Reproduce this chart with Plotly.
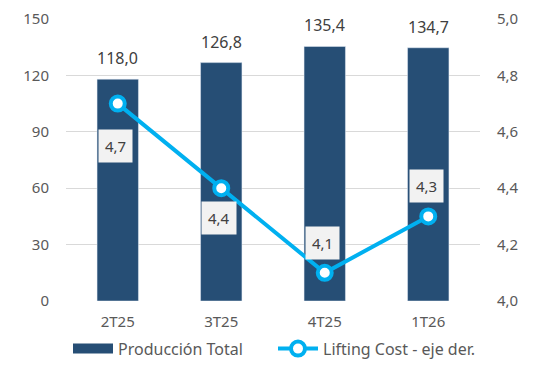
import plotly.graph_objects as go

categories = ["2T25", "3T25", "4T25", "1T26"]
produccion = [118.0, 126.8, 135.4, 134.7]
lifting = [4.7, 4.4, 4.1, 4.3]
left_ticks = [0, 30, 60, 90, 120, 150]
right_ticks = [4.0, 4.2, 4.4, 4.6, 4.8, 5.0]
right_tick_labels = ["4,0", "4,2", "4,4", "4,6", "4,8", "5,0"]

BAR = "#264E75"
LINE = "#00B0F0"
TXT = "#595959"
FONT = "Noto Sans"

fig = go.Figure()
fig.add_trace(go.Bar(
    x=categories, y=produccion, name="Producción Total",
    marker=dict(color=BAR), width=0.4, showlegend=False,
    cliponaxis=False,
))
for c, v in zip(categories, produccion):
    fig.add_annotation(
        x=c, y=v, yref="y", text=f"{v:.1f}".replace(".", ","),
        showarrow=False, yshift=21,
        font=dict(size=16, color="#404040", family=FONT),
    )
# legend entry for bars (wide rectangle swatch)
fig.add_trace(go.Scatter(
    x=[None], y=[None], name="Producción Total", mode="lines",
    line=dict(color=BAR, width=12), showlegend=True,
))
fig.add_trace(go.Scatter(
    x=categories, y=lifting, name="Lifting Cost - eje der.", yaxis="y2",
    mode="lines+markers",
    line=dict(color=LINE, width=4),
    marker=dict(size=14, color="white", line=dict(color=LINE, width=4)),
    cliponaxis=False,
))

label_shifts = [-42, -30, 30, 30]
for c, v, s in zip(categories, lifting, label_shifts):
    fig.add_annotation(
        x=c, y=v, yref="y2", text=f"{v:.1f}".replace(".", ","),
        showarrow=False, yshift=s, xshift=-2,
        bgcolor="#F2F2F2", borderpad=6,
        font=dict(size=15, color="#404040", family=FONT),
    )

fig.update_layout(
    width=538, height=365,
    margin=dict(l=58, r=66, t=11, b=72, autoexpand=False),
    paper_bgcolor="white", plot_bgcolor="white",
    separators=",.",
    font=dict(family=FONT, size=15, color=TXT),
    showlegend=True,
    legend=dict(orientation="h", x=0.5, xanchor="center", yref="container",
                y=0.02, yanchor="bottom", entrywidth=150, entrywidthmode="pixels",
                font=dict(size=16, color=TXT, family=FONT), itemwidth=40,
                traceorder="normal"),
    xaxis=dict(showgrid=False, showline=False, ticks="", automargin=False,
               tickfont=dict(size=15, color=TXT), ticklabelstandoff=10),
    yaxis=dict(range=[0, 150], tickvals=left_ticks, showgrid=True, gridcolor="#D9D9D9",
               gridwidth=1, zeroline=False, showline=False, ticks="", automargin=False,
               ticklabeloverflow="allow",
               tickfont=dict(size=15, color=TXT), ticklabelstandoff=16),
    yaxis2=dict(range=[4.0, 5.0], tickvals=right_ticks, ticktext=right_tick_labels,
                overlaying="y", side="right", showgrid=False, zeroline=False,
                showline=False, ticks="", automargin=False,
                ticklabeloverflow="allow",
                tickfont=dict(size=15, color=TXT), ticklabelstandoff=16),
)

fig.write_html("out.html")
